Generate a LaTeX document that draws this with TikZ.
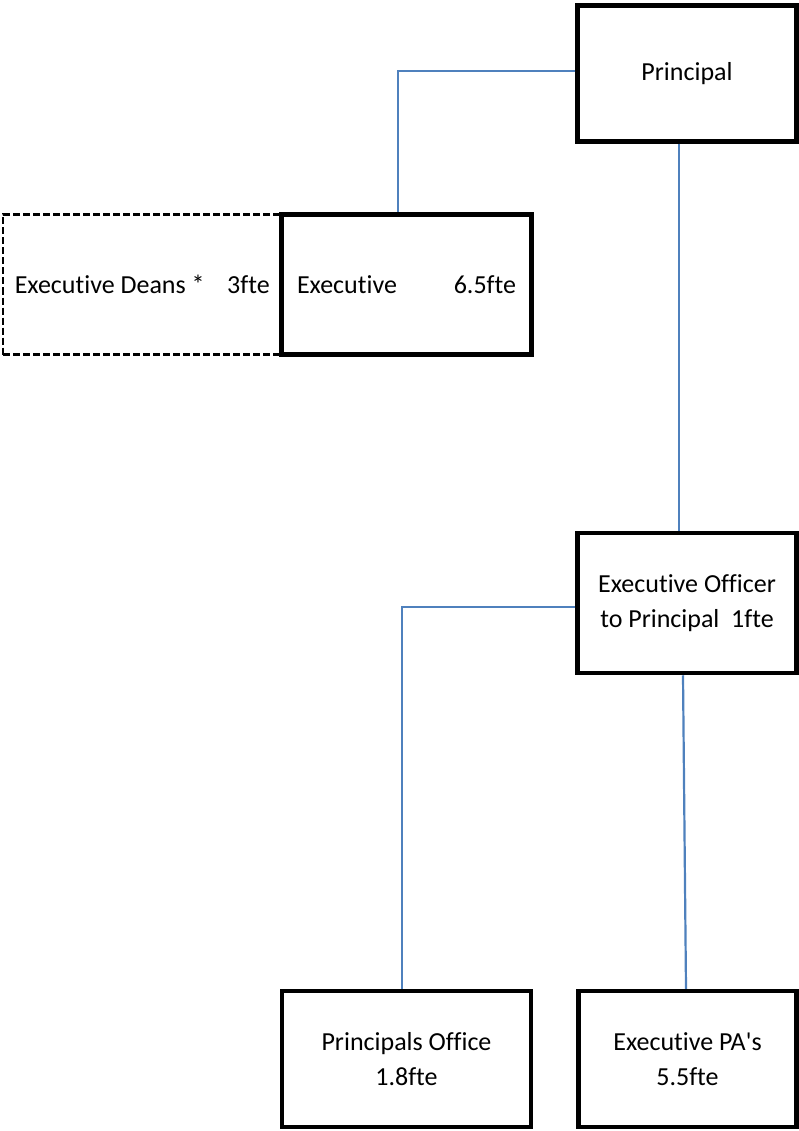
\documentclass[tikz,border=0pt]{standalone}
\usepackage{fontspec}
\setmainfont{Carlito}[Ligatures={NoCommon,NoContextual}]
\definecolor{linkblue}{RGB}{79,129,189}
\begin{document}
\begin{tikzpicture}[x=1pt,y=-1pt,
  every node/.style={font=\fontsize{26}{35}\selectfont, inner sep=0pt, align=center},
  post/.style={draw=black, line width=4.5pt, rectangle},
  adjunct/.style={draw=black, line width=2.5pt, dash pattern=on 7pt off 3pt, rectangle},
  conn/.style={draw=linkblue, line width=2.2pt}]
\useasboundingbox (0,0) rectangle (799,1131);

% boxes
\node[adjunct, minimum width=278.5pt, minimum height=140pt] (deans) at (142.25,284.5)
  {\makebox[255pt]{Executive Deans *\hfill 3fte}};
\node[post, minimum width=250pt, minimum height=140pt] (exec) at (406.5,284.5)
  {\makebox[219pt]{Executive\hfill 6.5fte}};
\node[post, minimum width=219pt, minimum height=136pt] (prin) at (687,73.5) {Principal};
\node[post, minimum width=219pt, minimum height=140pt] (eo) at (687,603)
  {Executive Officer\\to Principal\ \ 1fte};
\node[post, minimum width=249pt, minimum height=136pt] (po) at (406.5,1059)
  {Principals Office\\1.8fte};
\node[post, minimum width=218pt, minimum height=136pt] (pa) at (687.5,1059)
  {Executive PA\textquotesingle s\\5.5fte};

% connectors
\draw[conn] ([yshift=2.5pt]prin.west) -| ([xshift=-8.5pt]exec.north);
\draw[conn] ([xshift=-8pt]prin.south) -- ([xshift=-8pt]eo.north);
\draw[conn] ([yshift=-4pt]eo.west) -| ([xshift=-4.5pt]po.north);
\draw[conn] ([xshift=-4pt]eo.south) -- ([xshift=-1.5pt]pa.north);
\end{tikzpicture}
\end{document}
